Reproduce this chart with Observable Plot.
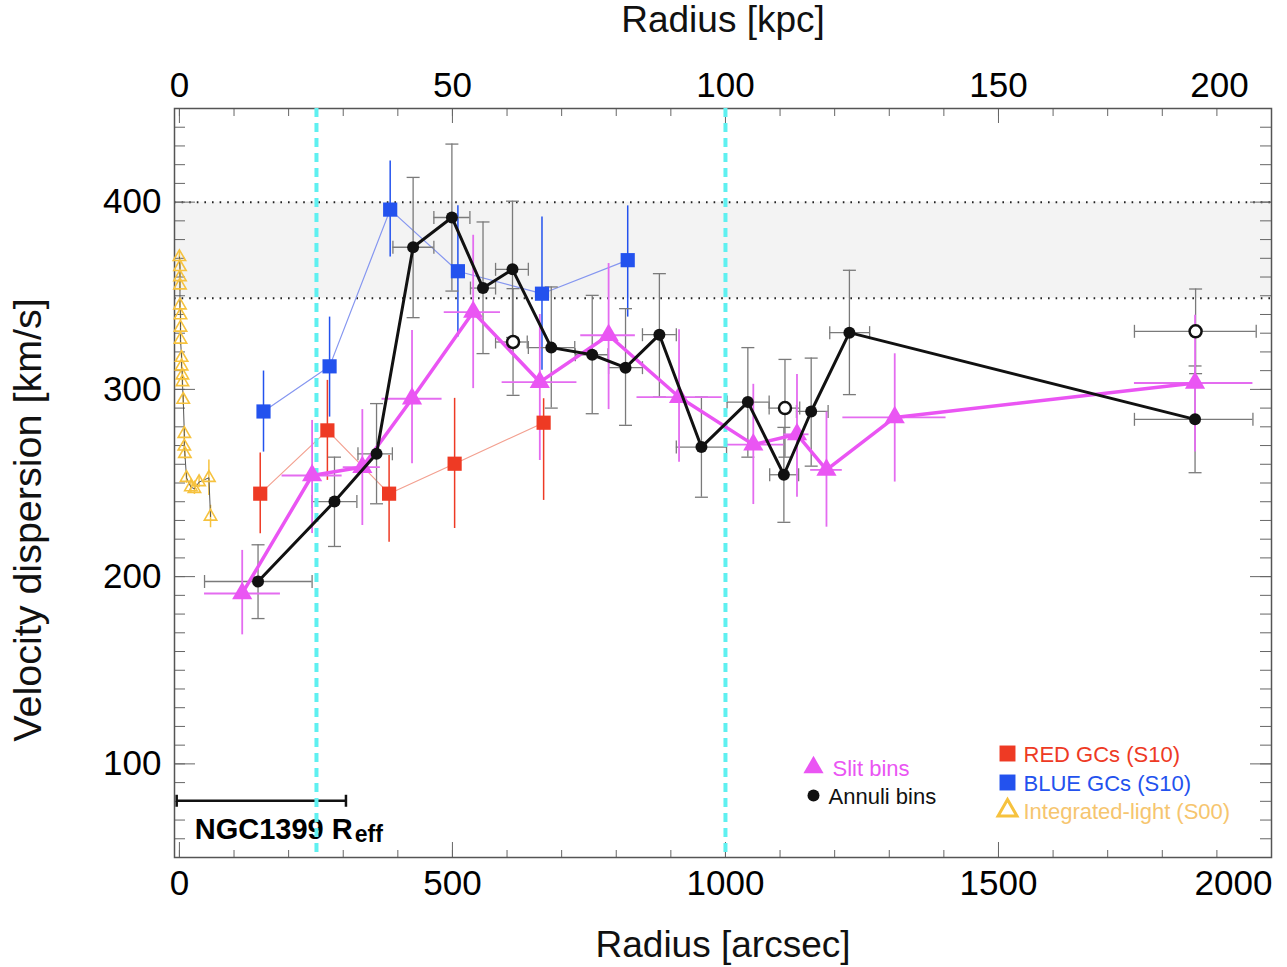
<!DOCTYPE html>
<html><head><meta charset="utf-8">
<script src="https://cdn.jsdelivr.net/npm/d3@7"></script>
<script src="https://cdn.jsdelivr.net/npm/@observablehq/plot@0.6"></script>
<style>body{margin:0;background:#fff;} svg{display:block}</style>
</head><body><div id="chart"></div>
<script>
// ---- Slit bins (magenta triangles) ----
const slitR   = [115, 243, 335, 426, 538, 660, 786, 915, 1051, 1131, 1185, 1310, 1860];
const slitV   = [191, 254, 258.5, 295, 341.3, 303.9, 328.9, 295.9, 270.5, 276, 257, 285, 303.4];
const slitVlo = [168.9, 223, 227.3, 260.3, 300.4, 262, 289.2, 261.1, 238.5, 242.4, 226.4, 250.5, 266.5];
const slitVhi = [214, 283.4, 289.2, 331.5, 382.3, 340, 367.2, 331.9, 302.7, 307.9, 287.9, 319, 339.6];
const slitRlo = [46, 188, 300, 371, 485, 591, 735, 838, 1000, 1107, 1156, 1215, 1749];
const slitRhi = [185, 298, 368, 481, 588, 728, 835, 994, 1107, 1153, 1214, 1404, 1966];

// ---- Annuli bins (black filled circles) ----
const annR   = [144, 284, 361, 428, 499, 556, 610, 681, 756, 817, 879, 956, 1041, 1107, 1157, 1227, 1860];
const annV   = [197.4, 240.1, 265.6, 375.9, 391.8, 354.1, 364.1, 322.3, 318.5, 311.6, 329.2, 269.2, 293.2, 254.4, 288.2, 330.3, 284];
const annVlo = [177.6, 216.1, 238.9, 338.3, 352.5, 319.1, 327.7, 290, 287, 280.8, 295.9, 242.4, 263.8, 229, 259, 297.2, 255.5];
const annVhi = [217, 263.8, 292.4, 413.2, 431, 389.4, 400.5, 354.7, 350.2, 343.1, 361.8, 295.9, 322.3, 279.7, 316.7, 363.6, 312.5];
const annRlo = [46, 243, 327, 391, 466, 533, 579, 639, 725, 786, 848, 910, 1003, 1081, 1130, 1191, 1749];
const annRhi = [243, 325, 390, 466, 532, 579, 639, 724, 785, 848, 910, 1002, 1080, 1134, 1188, 1264, 1966];

// ---- Annuli bins, open circles ----
const openR   = [611, 1109, 1861];
const openV   = [325.3, 290, 331];
const openVlo = [296.8, 263.8, 308.4];
const openVhi = [353.8, 316, 353.6];
const openRlo = [579, 1080, 1749];
const openRhi = [637, 1136, 1972];

// ---- BLUE GCs (S10) ----
const blueR  = [154, 275, 386, 510, 664, 821];
const blueV  = [288.2, 312.3, 396, 363.1, 351.1, 369];
const blueLo = [266.5, 285.2, 370.7, 328, 310.2, 338.6];
const blueHi = [309.8, 338.6, 421.9, 398, 392.1, 398];

// ---- RED GCs (S10) ----
const redR  = [148, 271, 384, 504, 667];
const redV  = [244.3, 278.1, 244.3, 260.3, 282.2];
const redLo = [222.9, 251.4, 218.4, 225.7, 240.7];
const redHi = [266, 304.8, 264.7, 295.2, 295];

// ---- Integrated light (S00) ----
const ilR   = [0, 1, 1, 1, 1, 2, 2, 2, 4, 4, 5.5, 5.5, 7, 9, 9, 10, 13, 21, 27.5, 36, 54, 57];
const ilV   = [370.7, 365.4, 360, 355.6, 344.9, 339.6, 333, 326.6, 316.9, 312.3, 307.5, 303.9, 294.5, 276.3, 269.5, 265.6, 252.8, 247.8, 246.9, 250.5, 252.8, 232.1];
const ilErr = [3, 3, 3, 3, 3, 3, 3, 3, 3, 3, 3, 3, 3, 3, 3, 3, 3, 3, 3, 3, 9.5, 6];

// ---- reference lines / band ----
const cyanR = [251, 1000];
const bandLo = 348.6, bandHi = 400;
const reffR1 = -5, reffR2 = 305, reffV = 80.3;

// ---- axis ticks ----
const xMajor = [0, 500, 1000, 1500, 2000];
const xMinor = d3.range(0, 2001, 100);
const yMajor = [100, 200, 300, 400];
const yMinor = d3.range(50, 451, 10);
const xLabels = [0, 500, 1000, 1500];
const xLast = [2000];

// ---- build tables ----
const slit = slitR.map((r, i) => ({r, v: slitV[i], lo: slitVlo[i], hi: slitVhi[i], rlo: slitRlo[i], rhi: slitRhi[i]}));
const ann  = annR.map((r, i) => ({r, v: annV[i], lo: annVlo[i], hi: annVhi[i], rlo: annRlo[i], rhi: annRhi[i]}));
const open = openR.map((r, i) => ({r, v: openV[i], lo: openVlo[i], hi: openVhi[i], rlo: openRlo[i], rhi: openRhi[i]}));
const blackAll = ann.concat(open);
const blue = blueR.map((r, i) => ({r, v: blueV[i], lo: blueLo[i], hi: blueHi[i]}));
const red  = redR.map((r, i) => ({r, v: redV[i], lo: redLo[i], hi: redHi[i]}));
const il   = ilR.map((r, i) => ({r, v: ilV[i], lo: ilV[i] - ilErr[i], hi: ilV[i] + ilErr[i]}));
const band = [{lo: bandLo, hi: bandHi}];
const reff = [{r1: reffR1, r2: reffR2, v: reffV}];

const capH = {draw(ctx, size) { const w = Math.sqrt(size / Math.PI); ctx.moveTo(-w, 0); ctx.lineTo(w, 0); }};
const capV = {draw(ctx, size) { const w = Math.sqrt(size / Math.PI); ctx.moveTo(0, -w); ctx.lineTo(0, w); }};

const MAG = "#ea55f3", MAGE = "#e46cf0", BLK = "#111", GRY = "#7a7a7a";
const BLUE = "#2352ee", BLUEL = "#8596f0", RED = "#ee3a24", REDL = "#f3a090", YEL = "#f6c23e";
const TICK = "#666";
const fmt = d => String(d);
const TF = 35, LF = 22;

const chart = Plot.plot({
  width: 1287, height: 967,
  marginLeft: 174, marginRight: 16, marginTop: 108, marginBottom: 110,
  x: {domain: [-9, 2000]},
  y: {domain: [50, 450]},
  style: {fontFamily: "'Liberation Sans', Arial, Helvetica, sans-serif", background: "#fff", color: "#000"},
  marks: [
    Plot.rect(band, {y1: "lo", y2: "hi", fill: "#f3f3f3"}),
    Plot.ruleY([bandLo, bandHi], {stroke: "#222", strokeWidth: 2, strokeDasharray: "1.6,6"}),

    // axes: ticks (inward)
    Plot.axisX({anchor: "bottom", ticks: xMinor, tickSize: 7, dy: -7, fill: "none", stroke: TICK, label: null}),
    Plot.axisX({anchor: "bottom", ticks: xMajor, tickSize: 15, dy: -15, fill: "none", stroke: TICK, label: null}),
    Plot.axisX({anchor: "top", ticks: xMinor, tickSize: 7, dy: 7, fill: "none", stroke: TICK, label: null}),
    Plot.axisX({anchor: "top", ticks: xMajor, tickSize: 14, dy: 14, fill: "none", stroke: TICK, label: null}),
    Plot.axisY({anchor: "left", ticks: yMinor, tickSize: 11, dx: 11, fill: "none", stroke: TICK, label: null}),
    Plot.axisY({anchor: "left", ticks: yMajor, tickSize: 21, dx: 21, fill: "none", stroke: TICK, label: null}),
    Plot.axisY({anchor: "right", ticks: yMinor, tickSize: 12, dx: -12, fill: "none", stroke: TICK, label: null}),
    Plot.axisY({anchor: "right", ticks: yMajor, tickSize: 22, dx: -22, fill: "none", stroke: TICK, label: null}),
    // axes: labels
    Plot.axisX({anchor: "bottom", ticks: xLabels, tickFormat: fmt, tickSize: 0, tickPadding: 13, fontSize: TF, label: null}),
    Plot.axisX({anchor: "bottom", ticks: xLast, tickFormat: fmt, tickSize: 0, tickPadding: 13, dx: -38, fontSize: TF, label: null}),
    Plot.axisX({anchor: "top", ticks: xLabels, tickFormat: d => String(d / 10), tickSize: 0, tickPadding: 12, fontSize: TF, label: null}),
    Plot.axisX({anchor: "top", ticks: xLast, tickFormat: d => String(d / 10), tickSize: 0, tickPadding: 12, dx: -52, fontSize: TF, label: null}),
    Plot.axisY({anchor: "left", ticks: yMajor, tickFormat: fmt, tickSize: 0, tickPadding: 13, fontSize: TF, label: null}),
    Plot.frame({stroke: "#555", strokeWidth: 1.5}),

    // axis titles
    Plot.text(["Radius [arcsec]"], {frameAnchor: "bottom", dy: 88, lineAnchor: "middle", textAnchor: "middle", fontSize: 37, text: d => d, fill: "#111"}),
    Plot.text(["Radius [kpc]"], {frameAnchor: "top", dy: -88, lineAnchor: "middle", textAnchor: "middle", fontSize: 37, text: d => d, fill: "#111"}),
    Plot.text(["Velocity dispersion [km/s]"], {frameAnchor: "left", dx: -146, dy: 37, rotate: -90, lineAnchor: "middle", textAnchor: "middle", fontSize: 39.5, text: d => d, fill: "#111"}),

    // R_eff bar
    Plot.ruleY(reff, {y: "v", x1: "r1", x2: "r2", stroke: BLK, strokeWidth: 2.5}),
    Plot.dot(reff, {x: "r1", y: "v", symbol: capV, r: 6, stroke: BLK, strokeWidth: 2.5}),
    Plot.dot(reff, {x: "r2", y: "v", symbol: capV, r: 6, stroke: BLK, strokeWidth: 2.5}),
    Plot.text(reff, {x: "r1", y: "v", text: () => "NGC1399 R", dx: 18, dy: 28.5, textAnchor: "start", fontWeight: "bold", fontSize: 29, fill: "#000"}),
    Plot.text(reff, {x: "r1", y: "v", text: () => "eff", dx: 178, dy: 34, textAnchor: "start", fontWeight: "bold", fontSize: 23, fill: "#000"}),

    // Integrated light
    Plot.ruleX(il, {x: "r", y1: "lo", y2: "hi", stroke: YEL, strokeWidth: 1.5}),
    Plot.line(il, {x: "r", y: "v", stroke: "#555", strokeWidth: 1}),
    Plot.dot(il, {x: "r", y: "v", symbol: "triangle", r: 4.6, stroke: YEL, strokeWidth: 1.6, fill: "none"}),

    // Blue & red GCs
    Plot.line(blue, {x: "r", y: "v", stroke: BLUEL, strokeWidth: 1.2}),
    Plot.ruleX(blue, {x: "r", y1: "lo", y2: "hi", stroke: BLUE, strokeWidth: 1.5}),
    Plot.line(red, {x: "r", y: "v", stroke: REDL, strokeWidth: 1.2}),
    Plot.ruleX(red, {x: "r", y1: "lo", y2: "hi", stroke: RED, strokeWidth: 1.5}),

    // black error bars
    Plot.ruleX(blackAll, {x: "r", y1: "lo", y2: "hi", stroke: GRY, strokeWidth: 1.3}),
    Plot.ruleY(blackAll, {y: "v", x1: "rlo", x2: "rhi", stroke: GRY, strokeWidth: 1.3}),
    Plot.dot(blackAll, {x: "r", y: "lo", symbol: capH, r: 6.5, stroke: GRY, strokeWidth: 1.3}),
    Plot.dot(blackAll, {x: "r", y: "hi", symbol: capH, r: 6.5, stroke: GRY, strokeWidth: 1.3}),
    Plot.dot(blackAll, {x: "rlo", y: "v", symbol: capV, r: 6.5, stroke: GRY, strokeWidth: 1.3}),
    Plot.dot(blackAll, {x: "rhi", y: "v", symbol: capV, r: 6.5, stroke: GRY, strokeWidth: 1.3}),

    // magenta error bars
    Plot.ruleX(slit, {x: "r", y1: "lo", y2: "hi", stroke: MAGE, strokeWidth: 1.8}),
    Plot.ruleY(slit, {y: "v", x1: "rlo", x2: "rhi", stroke: MAGE, strokeWidth: 1.8}),

    // cyan dashed
    Plot.ruleX(cyanR, {stroke: "#5ff0f0", strokeWidth: 4, strokeDasharray: "9,6"}),

    // GC squares
    Plot.dot(blue, {x: "r", y: "v", symbol: "square", r: 8, fill: BLUE}),
    Plot.dot(red, {x: "r", y: "v", symbol: "square", r: 8, fill: RED}),

    // slit bins
    Plot.line(slit, {x: "r", y: "v", stroke: MAG, strokeWidth: 3.5}),
    Plot.dot(slit, {x: "r", y: "v", symbol: "triangle", r: 7.5, fill: MAG}),

    // annuli bins
    Plot.line(ann, {x: "r", y: "v", stroke: BLK, strokeWidth: 3}),
    Plot.dot(ann, {x: "r", y: "v", r: 6, fill: BLK}),
    Plot.dot(open, {x: "r", y: "v", r: 6, fill: "#fff", stroke: BLK, strokeWidth: 2.5}),

    // legend
    Plot.dot(["Slit bins"], {frameAnchor: "bottom-right", dx: -458, dy: -90, symbol: "triangle", r: 7.5, fill: MAG}),
    Plot.text(["Slit bins"], {frameAnchor: "bottom-right", dx: -439, dy: -89, text: d => d, textAnchor: "start", lineAnchor: "middle", fontSize: LF, fill: MAG}),
    Plot.dot(["Annuli bins"], {frameAnchor: "bottom-right", dx: -458, dy: -62, r: 6, fill: BLK}),
    Plot.text(["Annuli bins"], {frameAnchor: "bottom-right", dx: -443, dy: -61, text: d => d, textAnchor: "start", lineAnchor: "middle", fontSize: LF, fill: BLK}),
    Plot.dot(["RED GCs (S10)"], {frameAnchor: "bottom-right", dx: -264, dy: -104, symbol: "square", r: 9, fill: RED}),
    Plot.text(["RED GCs (S10)"], {frameAnchor: "bottom-right", dx: -248, dy: -103, text: d => d, textAnchor: "start", lineAnchor: "middle", fontSize: LF, fill: RED}),
    Plot.dot(["BLUE GCs (S10)"], {frameAnchor: "bottom-right", dx: -264, dy: -75, symbol: "square", r: 9, fill: BLUE}),
    Plot.text(["BLUE GCs (S10)"], {frameAnchor: "bottom-right", dx: -248, dy: -74, text: d => d, textAnchor: "start", lineAnchor: "middle", fontSize: LF, fill: BLUE}),
    Plot.dot(["Integrated-light (S00)"], {frameAnchor: "bottom-right", dx: -264, dy: -47, symbol: "triangle", r: 7, stroke: YEL, strokeWidth: 3, fill: "none"}),
    Plot.text(["Integrated-light (S00)"], {frameAnchor: "bottom-right", dx: -248, dy: -46, text: d => d, textAnchor: "start", lineAnchor: "middle", fontSize: LF, fill: "#f6c56e"})
  ]
});
document.getElementById("chart").appendChild(chart);
</script>
</body></html>
